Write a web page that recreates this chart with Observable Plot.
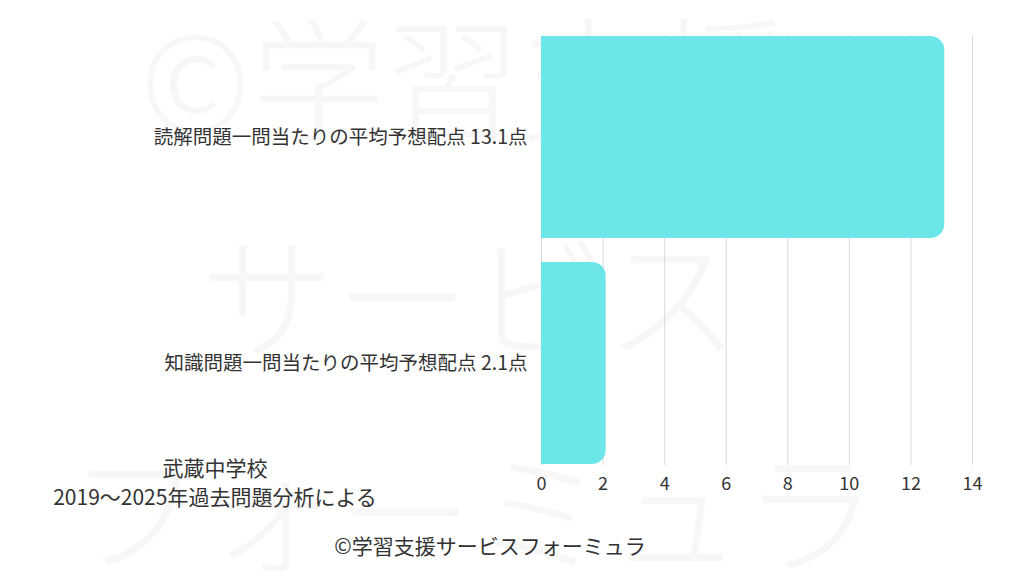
<!DOCTYPE html>
<html>
<head>
<meta charset="utf-8">
<script src="https://cdn.jsdelivr.net/npm/d3@7"></script>
<script src="https://cdn.jsdelivr.net/npm/@observablehq/plot@0.6"></script>
<style>
  html, body { margin: 0; padding: 0; background: #fff; }
  #wrap { position: relative; width: 1024px; height: 576px; overflow: hidden; font-family: "Noto Sans CJK JP", "Noto Sans", sans-serif; color: #333; }
  #wm { position: absolute; left: 0; top: 0; }
  #chart { position: absolute; left: 0; top: 0; }
  #note { position: absolute; left: 15px; top: 453px; width: 400px; text-align: center; font-size: 21px; line-height: 29px; color: #333; }
  #cap { position: absolute; left: 240px; top: 530px; width: 500px; text-align: center; font-size: 21px; line-height: 30px; color: #333; }
</style>
</head>
<body>
<div id="wrap">
  <svg id="wm" width="1024" height="576"></svg>
  <div id="chart"></div>
  <div id="note"></div>
  <div id="cap"></div>
</div>
<script>
const categories = ["読解問題一問当たりの平均予想配点 13.1点", "知識問題一問当たりの平均予想配点 2.1点"];
const values = [13.1, 2.1];
const xTicks = [0, 2, 4, 6, 8, 10, 12, 14];
const noteLines = ["武蔵中学校", "2019〜2025年過去問題分析による"];
const captionText = "©学習支援サービスフォーミュラ";
const watermarkLines = ["©学習支援", "サービス", "フォーミュラ"];

const data = categories.map((c, i) => ({label: c, value: values[i]}));

// watermark (faint background text)
const wm = d3.select("#wm");
const wmPos = [[140, 73], [200, 290], [68, 505]];
watermarkLines.forEach((t, i) => {
  wm.append("text")
    .attr("x", wmPos[i][0]).attr("y", wmPos[i][1])
    .attr("dominant-baseline", "central")
    .attr("font-family", "Noto Sans CJK JP")
    .attr("font-weight", 300)
    .attr("font-size", 135)
    .attr("fill", "#f7f7f7")
    .text(t);
});

const chart = Plot.plot({
  width: 1024,
  height: 510,
  marginTop: 35,
  marginBottom: 45,
  marginLeft: 541,
  marginRight: 52,
  style: {fontFamily: "'Noto Sans CJK JP', 'Noto Sans', sans-serif", color: "#333", background: "transparent"},
  x: {domain: [0, 14], ticks: xTicks},
  y: {domain: categories, paddingInner: 0.105, paddingOuter: 0},
  marks: [
    Plot.ruleX(xTicks, {stroke: "#d9d9d9", strokeWidth: 1}),
    Plot.barX(data, {x: "value", y: "label", fill: "#6ce6e9", rx: 14}),
    Plot.barX(data, {x1: 0, x2: d => d.value / 2, y: "label", fill: "#6ce6e9"}),
    Plot.axisX({ticks: xTicks, tickSize: 0, tickPadding: 12, fontSize: 18, label: null, fill: "#333"}),
    Plot.axisY({tickSize: 0, tickPadding: 14, fontSize: 19.5, label: null, fill: "#333"})
  ]
});
document.getElementById("chart").appendChild(chart);

document.getElementById("note").innerHTML = noteLines.map(s => `<div>${s}</div>`).join("");
document.getElementById("cap").textContent = captionText;
</script>
</body>
</html>
